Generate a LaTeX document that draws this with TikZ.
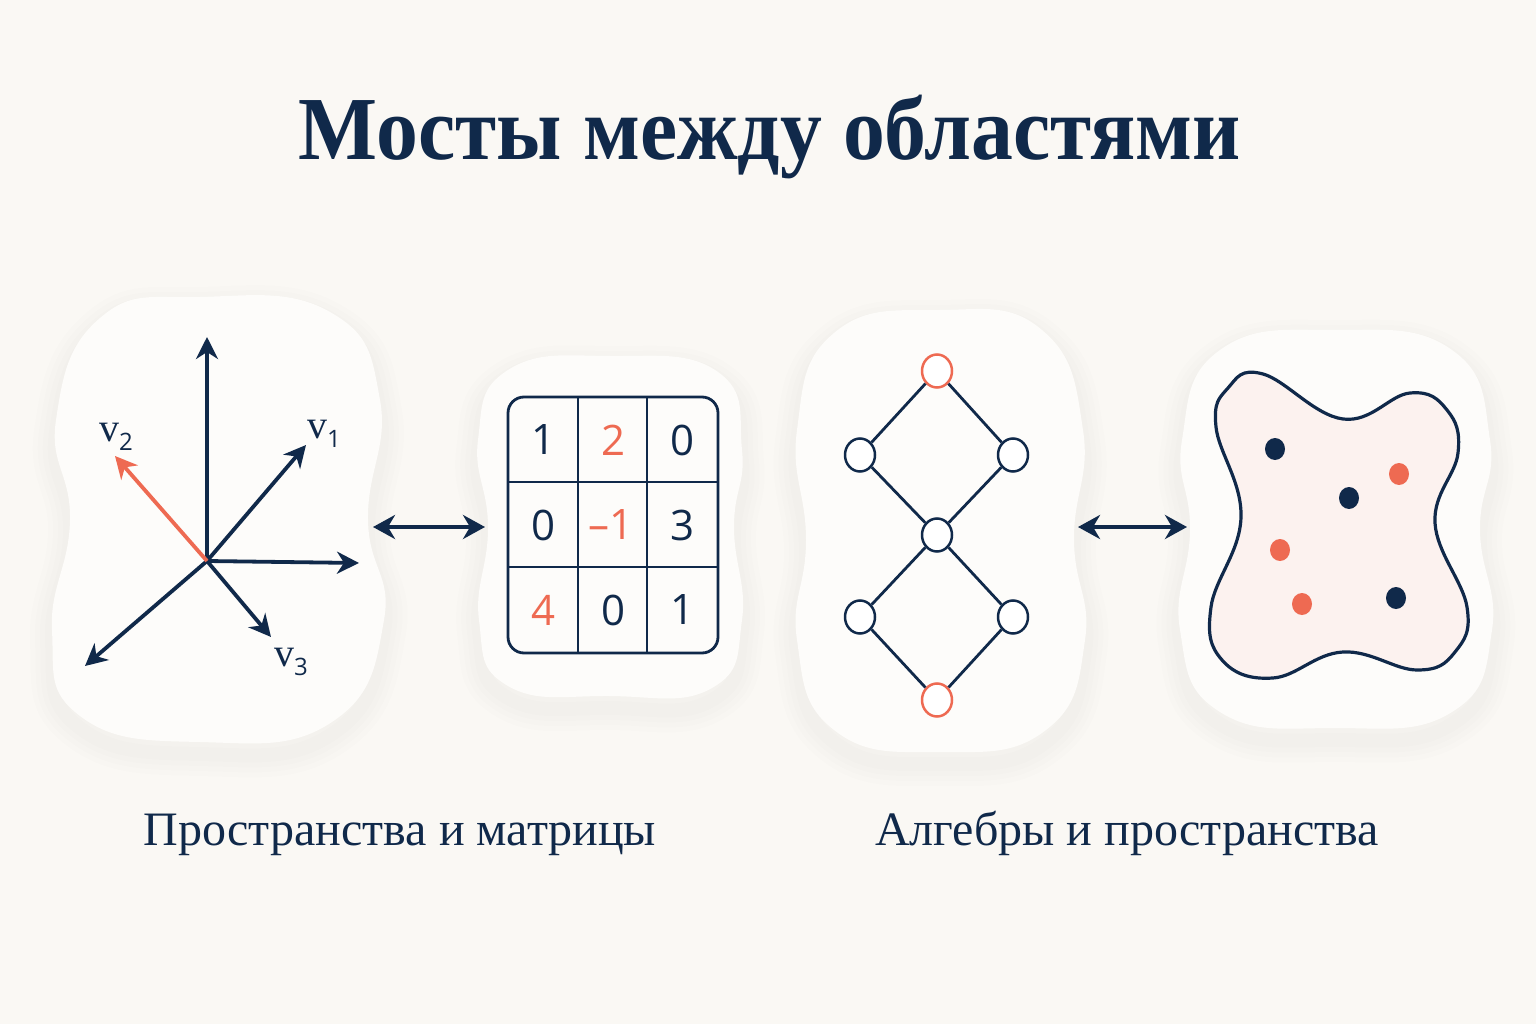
\documentclass[tikz,border=0pt]{standalone}
\usepackage{fontspec}
\setmainfont{Liberation Serif}
\newfontfamily\numfont{Open Sans}
\usetikzlibrary{arrows.meta,shapes.geometric}
\definecolor{navy}{HTML}{10294A}
\definecolor{coral}{HTML}{EE6A52}
\definecolor{bgc}{HTML}{FAF8F4}
\definecolor{blobc}{HTML}{FDFCFA}
\definecolor{pinkc}{HTML}{FCF2EF}
\newcommand\myblob[1]{%
  \foreach \w in {44,34,24,14}{\draw[black,opacity=0.009,line width=\w pt,line join=round,yshift=-12pt] plot[smooth cycle,tension=0.8] coordinates {#1};}
  \fill[blobc] plot[smooth cycle, tension=0.8] coordinates {#1};
}
\tikzset{
  vec/.style={navy, line width=3.8pt, -{Stealth[length=22pt,width=22pt,inset=7pt]}},
  dbl/.style={navy, line width=4.2pt, {Stealth[length=22pt,width=24pt,inset=7pt]}-{Stealth[length=22pt,width=24pt,inset=7pt]}},
  num/.style={font=\numfont\fontsize{42}{42}\selectfont, text=navy, inner sep=0pt},
  gnode/.style={ellipse, draw=navy, line width=2.5pt, fill=white, minimum width=30pt, minimum height=33pt, inner sep=0pt},
  gedge/.style={navy, line width=2.8pt},
  dotn/.style={ellipse, minimum width=20pt, minimum height=22pt, inner sep=0pt},
  lab/.style={font=\fontsize{48}{48}\selectfont, text=navy, anchor=base},
  vlab/.style={text=navy, inner sep=0pt, anchor=base west}
}
\newcommand\vl[1]{{\fontsize{40}{40}\selectfont v}\raisebox{-9pt}{\numfont\fontsize{24}{24}\selectfont #1}}
\begin{document}
\begin{tikzpicture}[x=1pt,y=-1pt]
\useasboundingbox (0,0) rectangle (1536,1024);
\fill[bgc] (0,0) rectangle (1536,1024);

% title
\node[anchor=base, text=navy, font=\bfseries\fontsize{90}{90}\selectfont] (title) at (770,160) {\scalebox{0.93}[1]{Мосты между областями}};

% blobs
\myblob{(200,297) (330,312) (380,400) (368,520) (384,620) (332,722) (200,742) (80,716) (52,630) (70,520) (56,420) (100,318)}
\myblob{(610,356) (718,372) (742,450) (734,527) (742,620) (712,688) (610,696) (508,686) (479,620) (488,527) (478,440) (508,370)}
\myblob{(940,310) (1042,330) (1083,430) (1074,540) (1085,640) (1046,730) (940,752) (834,730) (797,640) (806,540) (797,430) (834,333)}
\myblob{(1335,330) (1452,350) (1490,440) (1480,530) (1492,630) (1452,712) (1335,728) (1220,712) (1180,630) (1190,530) (1182,440) (1220,350)}

% panel 1: vectors
\coordinate (O) at (207,561);
\coordinate (up) at (207,337);
\coordinate (rt) at (359,563);
\coordinate (e1) at (306,445);
\coordinate (e2) at (115,456);
\coordinate (e3) at (271,637);
\coordinate (ll) at (85,666);
\draw[vec] (O) -- (up);
\draw[vec] (O) -- (rt);
\draw[vec] (O) -- (e1);
\draw[vec] (O) -- (e3);
\draw[vec] (O) -- (ll);
\draw[vec, coral] (O) -- (e2);
\node[vlab] (lv2) at (99,441) {\vl{2}};
\node[vlab] (lv1) at (307,438) {\vl{1}};
\node[vlab] (lv3) at (274,666) {\vl{3}};

% panel 2: matrix
\draw[navy, line width=2.8pt, rounded corners=16pt] (508,397) rectangle (718,653);
\draw[navy, line width=1.5pt] (578,397) -- (578,653) (647,397) -- (647,653) (508,482) -- (718,482) (508,567) -- (718,567);
\node[num] (m11) at (543,440) {1};
\node[num, text=coral] (m12) at (613,440) {2};
\node[num] (m13) at (682,440) {0};
\node[num] (m21) at (543,525) {0};
\node[num, text=coral] (m22) at (611,525) {–1};
\node[num] (m23) at (682,525) {3};
\node[num, text=coral] (m31) at (543,610) {4};
\node[num] (m32) at (613,610) {0};
\node[num] (m33) at (682,610) {1};

% double arrows
\coordinate (a1) at (373,527);
\coordinate (a2) at (485,527);
\draw[dbl] (a1) -- (a2);
\coordinate (b1) at (1078,527);
\coordinate (b2) at (1187,527);
\draw[dbl] (b1) -- (b2);

% panel 3: lattice
\node[gnode, draw=coral] (t) at (937,371) {};
\node[gnode] (l1) at (860,455) {};
\node[gnode] (r1) at (1013,455) {};
\node[gnode] (c) at (937,535) {};
\node[gnode] (l2) at (860,617) {};
\node[gnode] (r2) at (1013,617) {};
\node[gnode, draw=coral] (b) at (937,700) {};
\draw[gedge] (t) -- (l1) (t) -- (r1) (l1) -- (c) (r1) -- (c) (c) -- (l2) (c) -- (r2) (l2) -- (b) (r2) -- (b);

% panel 4: space
\draw[navy, line width=3.2pt, fill=pinkc] plot[smooth cycle, tension=0.7] coordinates {(1263,374) (1343,419) (1410,393) (1447,410) (1458,453) (1435,523) (1467,607) (1455,652) (1417,670) (1343,652) (1273,678) (1222,660) (1211,607) (1241,517) (1216,427) (1228,388)};
\node[dotn, fill=navy] (d1) at (1275,449) {};
\node[dotn, fill=navy] (d2) at (1349,498) {};
\node[dotn, fill=navy] (d3) at (1396,598) {};
\node[dotn, fill=coral] (d4) at (1399,474) {};
\node[dotn, fill=coral] (d5) at (1280,550) {};
\node[dotn, fill=coral] (d6) at (1302,604) {};

% labels
\node[lab] (cap1) at (400,845) {Пространства и матрицы};
\node[lab] (cap2) at (1127,845) {Алгебры и пространства};
\end{tikzpicture}
\end{document}
